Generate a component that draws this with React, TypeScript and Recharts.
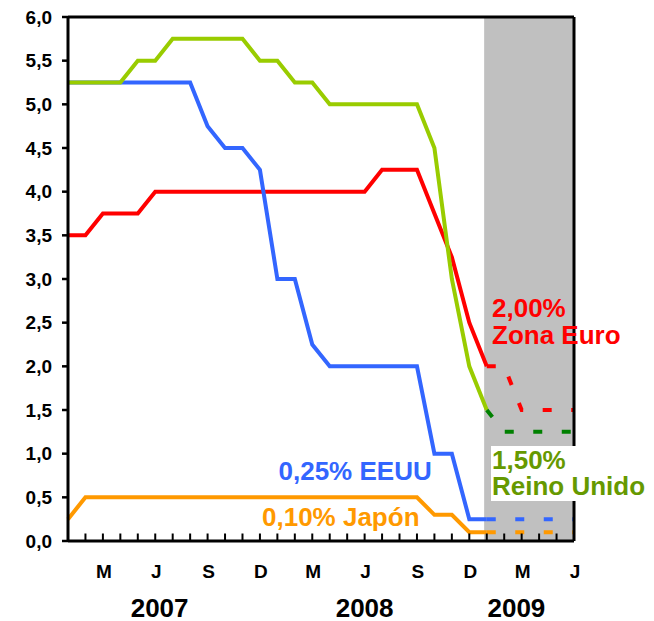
import React from 'react';
import { LineChart, Line, XAxis, YAxis, ReferenceArea, ReferenceLine } from 'recharts';

const FONT = '"Liberation Sans", Arial, sans-serif';

// months run Jan 2007 .. Jun 2009 (index 0..29)
const monthInitials = ['E', 'F', 'M', 'A', 'M', 'J', 'J', 'A', 'S', 'O', 'N', 'D'];
const monthCount = 30;
const years = ['2007', '2008', '2009'];
const yearCentres = [5.25, 17, 25.7];
const yTicks = [0, 0.5, 1, 1.5, 2, 2.5, 3, 3.5, 4, 4.5, 5, 5.5, 6];

// observed rates, Jan 2007 .. Jan 2009
const euroRate = [3.5, 3.5, 3.75, 3.75, 3.75, 4, 4, 4, 4, 4, 4, 4, 4, 4, 4, 4, 4, 4, 4.25, 4.25, 4.25, 3.75, 3.25, 2.5, 2.0];
const ukRate = [5.25, 5.25, 5.25, 5.25, 5.5, 5.5, 5.75, 5.75, 5.75, 5.75, 5.75, 5.5, 5.5, 5.25, 5.25, 5, 5, 5, 5, 5, 5, 4.5, 3.0, 2.0, 1.5];
const usRate = [5.25, 5.25, 5.25, 5.25, 5.25, 5.25, 5.25, 5.25, 4.75, 4.5, 4.5, 4.25, 3.0, 3.0, 2.25, 2, 2, 2, 2, 2, 2, 1.0, 1.0, 0.25, 0.25];
const japanRate = [0.25, 0.5, 0.5, 0.5, 0.5, 0.5, 0.5, 0.5, 0.5, 0.5, 0.5, 0.5, 0.5, 0.5, 0.5, 0.5, 0.5, 0.5, 0.5, 0.5, 0.5, 0.3, 0.3, 0.1, 0.1];

// expected path, Jan 2009 .. Jun 2009
const forecastStart = 24;
const euroForecast = [2.0, 2.0, 1.5, 1.5, 1.5, 1.5];
const ukForecast = [1.5, 1.25, 1.25, 1.25, 1.25, 1.25];
const usForecast = [0.25, 0.25, 0.25, 0.25, 0.25, 0.25];
const japanForecast = [0.1, 0.1, 0.1, 0.1, 0.1, 0.1];

const shadeFrom = 23.85;

const pick = (arr: number[], i: number) => (i < arr.length ? arr[i] : null);
const pickF = (arr: number[], i: number) => (i >= forecastStart ? arr[i - forecastStart] : null);

const data = Array.from({ length: monthCount }, (_, i) => ({
    i,
    euro: pick(euroRate, i),
    uk: pick(ukRate, i),
    us: pick(usRate, i),
    japan: pick(japanRate, i),
    euroF: pickF(euroForecast, i),
    ukF: pickF(ukForecast, i),
    usF: pickF(usForecast, i),
    japanF: pickF(japanForecast, i),
}));

const MonthTick = (props: any) => {
    const { x, y, payload } = props;
    const i = payload.value;
    return (
        <g>
            {i > 0 && <line x1={x} x2={x} y1={y} y2={y - 7.5} stroke="#000" strokeWidth={2} />}
            {i % 3 === 2 && (
                <text x={x + 1} y={y + 37} textAnchor="middle" fill="#000" fontSize={19} fontWeight={700} fontFamily={FONT}>
                    {monthInitials[i % 12]}
                </text>
            )}
        </g>
    );
};

const YearTick = (props: any) => {
    const { x, y, index } = props;
    return (
        <text x={x} y={y + 24} textAnchor="middle" fill="#000" fontSize={26} fontWeight={700} fontFamily={FONT}>
            {years[index]}
        </text>
    );
};

const labelStyle = { fontSize: 26, fontWeight: 700, fontFamily: FONT } as const;

export default function App() {
    return (
        <div style={{ position: 'absolute', left: 0, top: 0, width: 654, height: 621, background: '#fff' }}>
            <LineChart width={654} height={621} data={data} margin={{ top: 17, right: 80, bottom: 0, left: 0 }}>
                <ReferenceArea x1={shadeFrom} x2={monthCount - 1} y1={0} y2={6} fill="#C0C0C0" fillOpacity={1} stroke="none" />
                <XAxis
                    dataKey="i"
                    type="number"
                    domain={[0, monthCount - 1]}
                    ticks={data.map((d) => d.i)}
                    interval={0}
                    height={52}
                    tickSize={0}
                    tickMargin={0}
                    tickLine={false}
                    axisLine={{ stroke: '#000', strokeWidth: 3 }}
                    tick={<MonthTick />}
                />
                <XAxis
                    xAxisId="year"
                    dataKey="i"
                    type="number"
                    domain={[0, monthCount - 1]}
                    ticks={yearCentres}
                    interval={0}
                    height={28}
                    tickSize={0}
                    tickMargin={0}
                    tickLine={false}
                    axisLine={false}
                    tick={<YearTick />}
                />
                <YAxis
                    domain={[0, 6]}
                    ticks={yTicks}
                    interval={0}
                    width={68}
                    tickSize={6}
                    tickMargin={10}
                    tickFormatter={(v: number) => v.toFixed(1).replace('.', ',')}
                    tick={{ fill: '#000', fontSize: 19, fontWeight: 700, fontFamily: FONT }}
                    tickLine={{ stroke: '#000', strokeWidth: 2.5 }}
                    axisLine={{ stroke: '#000', strokeWidth: 3 }}
                />
                <Line dataKey="japan" stroke="#FF9900" strokeWidth={4} dot={false} isAnimationActive={false} />
                <Line dataKey="euro" stroke="#FF0000" strokeWidth={4} dot={false} isAnimationActive={false} />
                <Line dataKey="us" stroke="#3366FF" strokeWidth={4} dot={false} isAnimationActive={false} />
                <Line dataKey="uk" stroke="#99CC00" strokeWidth={4} dot={false} isAnimationActive={false} />
                <Line dataKey="japanF" stroke="#FF9900" strokeWidth={4} strokeDasharray="9 19.5" dot={false} isAnimationActive={false} />
                <Line dataKey="usF" stroke="#3366FF" strokeWidth={4} strokeDasharray="9 19.5" dot={false} isAnimationActive={false} />
                <Line dataKey="euroF" stroke="#FF0000" strokeWidth={4} strokeDasharray="9 19.5" dot={false} isAnimationActive={false} />
                <Line dataKey="ukF" stroke="#008000" strokeWidth={4} strokeDasharray="9 19.5" dot={false} isAnimationActive={false} />
                <ReferenceLine y={6} stroke="#000" strokeWidth={3} />
                <ReferenceLine x={monthCount - 1} stroke="#000" strokeWidth={3} />
            </LineChart>
            <svg width={654} height={621} style={{ position: 'absolute', left: 0, top: 0, pointerEvents: 'none' }}>
                <text x={492} y={317} fill="#FF0000" {...labelStyle}>2,00%</text>
                <text x={492} y={343.5} fill="#FF0000" {...labelStyle}>Zona Euro</text>
                <rect x={491} y={446} width={157} height={55} fill="#fff" />
                <text x={492} y={469} fill="#669900" {...labelStyle}>1,50%</text>
                <text x={492} y={495} fill="#669900" {...labelStyle}>Reino Unido</text>
                <text x={278.5} y={480} fill="#3366FF" {...labelStyle}>0,25% EEUU</text>
                <text x={262} y={526} fill="#FF9900" {...labelStyle}>0,10% Japón</text>
            </svg>
        </div>
    );
}
